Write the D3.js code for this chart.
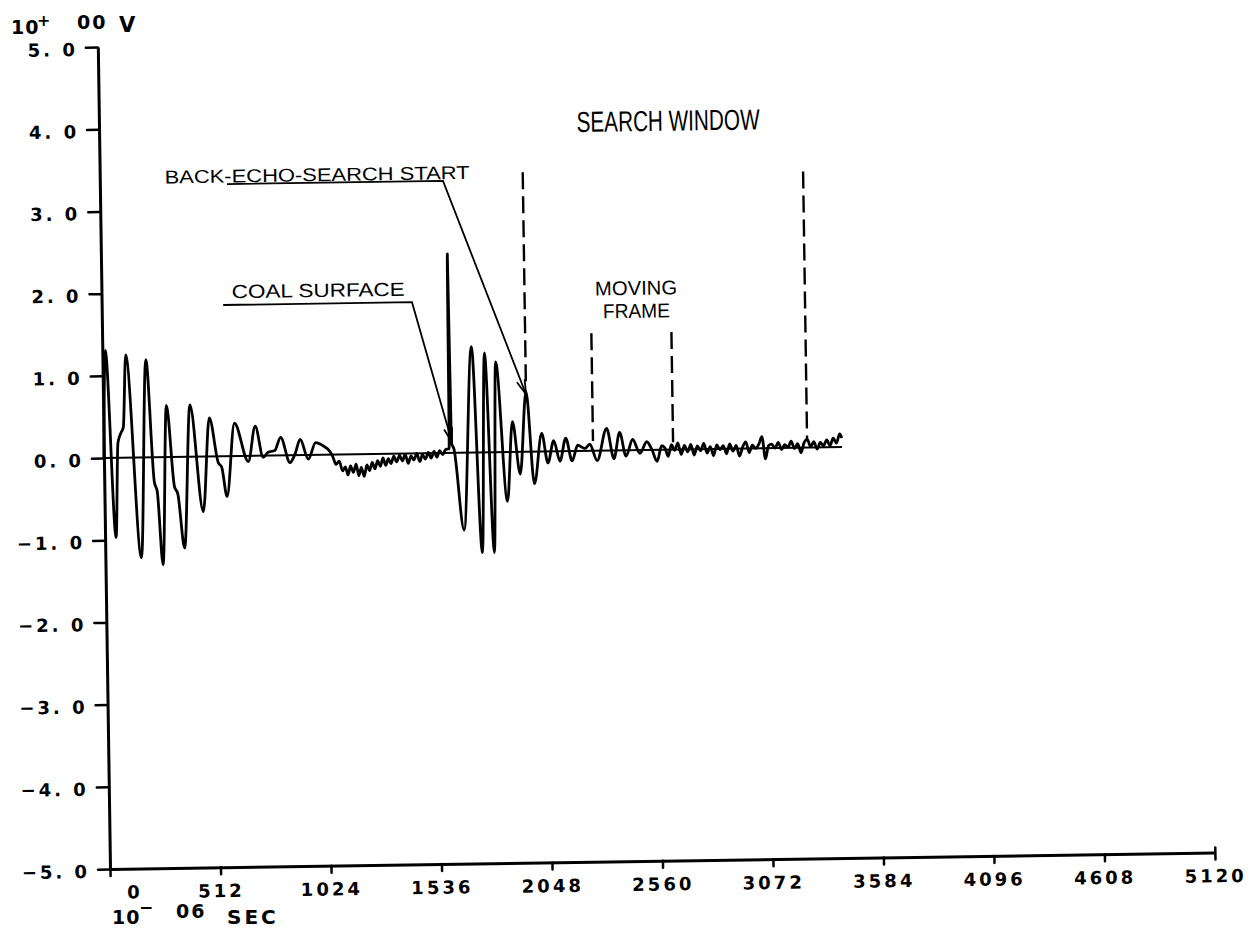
<!DOCTYPE html>
<html>
<head>
<meta charset="utf-8">
<script src="https://cdn.jsdelivr.net/npm/d3@7"></script>
<style>
body { margin: 0; background: #fff; }
.axis text { font-family: "DejaVu Sans", sans-serif; font-weight: bold; font-size: 18px; letter-spacing: 3px; fill: #000; }
.unit { font-family: "DejaVu Sans", sans-serif; font-weight: bold; fill: #000; }
.note { font-family: "Liberation Sans Narrow", "Liberation Sans", "DejaVu Sans", sans-serif; fill: #000; }
</style>
</head>
<body>
<svg id="chart" width="1255" height="931"></svg>
<script>
var width = 1255, height = 931;
var origin = {x: 110, y: 869};   // lower-left corner of the plot
var w = 1105, h = 822;
var tilt = -0.85;                 // the scanned plot sits slightly rotated

// tick values
var xTicks = [0, 512, 1024, 1536, 2048, 2560, 3072, 3584, 4096, 4608, 5120];
var yTicks = [-5, -4, -3, -2, -1, 0, 1, 2, 3, 4, 5];

// waveform, [time in 10^-6 s, volts]
var ringing = [
  [0, 0.0], [14, 1.31], [51, -0.97], [66, 0.18], [80, 0.30], [92, 0.37], [108, 1.25],
  [167, -1.22], [201, 1.19], [232, -0.30], [245, -0.42], [267, -1.31], [293, 0.63],
  [325, -0.36], [340, -0.45], [368, -1.11], [402, 0.63], [457, -0.67], [491, 0.47],
  [530, -0.08], [545, -0.13], [568, -0.49], [607, 0.40], [669, -0.07], [703, 0.36],
  [738, -0.02], [761, 0.04], [792, 0.06], [820, 0.22], [862, -0.09], [885, 0.01],
  [911, 0.19], [947, -0.05], [982, 0.15], [1016, 0.11], [1047, 0.04]
];
var quiet = [
  [1060, -0.02], [1075, -0.12], [1090, -0.08], [1105, -0.20], [1118, -0.15], [1130, -0.25],
  [1142, -0.14], [1155, -0.22], [1168, -0.12], [1180, -0.26], [1192, -0.16], [1205, -0.27],
  [1218, -0.13], [1230, -0.20], [1243, -0.10], [1255, -0.18], [1268, -0.08], [1280, -0.15],
  [1293, -0.05], [1305, -0.14], [1318, -0.06], [1330, -0.12], [1343, -0.03], [1356, -0.10],
  [1370, -0.02], [1383, -0.09], [1396, -0.01], [1410, -0.12], [1423, -0.03], [1436, -0.08],
  [1450, 0.00], [1463, -0.10], [1476, -0.02], [1490, -0.07], [1503, 0.01], [1516, -0.06],
  [1530, 0.02], [1543, -0.05], [1556, 0.03], [1570, -0.02], [1583, 0.04], [1596, 0.05]
];
var echo = [
  [1600, 0.05], [1605, 2.42], [1611, 0.12], [1622, 0.05], [1664, -0.94], [1710, 1.29],
  [1747, -1.22], [1770, 1.21], [1803, -1.22], [1821, 1.10], [1867, -0.60], [1895, 0.37],
  [1928, -0.27], [1960, 0.73], [1993, -0.39], [2030, 0.22], [2057, -0.14], [2085, 0.13],
  [2113, -0.12], [2141, 0.16], [2169, -0.12], [2196, 0.07], [2229, 0.03], [2252, 0.08],
  [2285, -0.12], [2331, 0.27], [2363, -0.10], [2391, 0.22], [2419, -0.07], [2451, 0.13],
  [2484, -0.04], [2516, 0.10], [2540, 0.00], [2563, -0.14], [2585, 0.05]
];
var tail = [
  [2600, 0.02], [2615, -0.08], [2630, 0.06], [2645, -0.01], [2660, 0.08], [2675, -0.06],
  [2690, 0.05], [2705, -0.03], [2720, 0.06], [2735, -0.07], [2750, 0.04], [2765, -0.02],
  [2780, 0.07], [2795, -0.05], [2810, 0.03], [2825, -0.08], [2840, 0.05], [2855, -0.01],
  [2870, 0.04], [2885, -0.06], [2900, 0.06], [2915, -0.03], [2930, 0.04], [2945, -0.09],
  [2960, 0.02], [2975, 0.08], [2990, -0.05], [3005, 0.04], [3020, 0.00], [3035, 0.05],
  [3050, 0.14], [3065, -0.13], [3080, 0.03], [3095, 0.05], [3110, 0.00], [3125, 0.07],
  [3140, -0.02], [3155, 0.04], [3170, 0.01], [3185, 0.08], [3200, -0.01], [3215, 0.05],
  [3230, -0.06], [3245, 0.06], [3260, 0.10], [3275, 0.01], [3290, 0.07], [3305, -0.02],
  [3320, 0.06], [3335, 0.02], [3350, 0.09], [3365, 0.02], [3380, 0.11], [3395, 0.05],
  [3410, 0.16], [3420, 0.11]
];

// dashed window marks: time, top and bottom volts
var markerT = [1960, 2267, 2638, 3259];
var markerTop = [3.40, 1.43, 1.43, 3.36];
var markerBottom = [0.78, 0.12, 0.09, 0.10];

// annotations
var noteText = ["SEARCH WINDOW", "BACK-ECHO-SEARCH START", "COAL SURFACE", "MOVING", "FRAME"];
var noteT = [2637, 1007, 1004, 2477, 2477];
var noteV = [3.88, 3.33, 1.92, 1.89, 1.61];
var noteSize = [29, 18.5, 19, 20, 20];
var noteLen = [183, 305, 173, 82, 67];

// leader lines: underline then arrow to the waveform
var leaders = [
  [[589, 3.31], [1590, 3.31], [1960, 0.70]],
  [[563, 1.84], [1438, 1.84], [1614, 0.13]]
];

var svg = d3.select("#chart");
svg.append("rect").attr("width", width).attr("height", height).attr("fill", "#fff");

var g = svg.append("g")
    .attr("transform", "translate(" + origin.x + "," + origin.y + ") rotate(" + tilt + ")");

var x = d3.scaleLinear().domain([0, 5120]).range([0, w]);
var y = d3.scaleLinear().domain([-5, 5]).range([0, -h]);

//AXES//
var xAxis = d3.axisBottom(x)
    .tickValues(xTicks)
    .tickSize(7)
    .tickSizeOuter(0)
    .tickFormat(d3.format("d"));

var gx = g.append("g").attr("class", "axis").call(xAxis);
gx.attr("font-family", null).attr("font-size", null);
gx.select(".domain").attr("stroke", "#000").attr("stroke-width", 3);
gx.selectAll(".tick line").attr("stroke", "#000").attr("stroke-width", 2.5).attr("stroke-linecap", "round");
gx.selectAll(".tick text")
    .attr("y", 17)
    .attr("dx", function(d) { return d == 0 ? 24 : 0; });
// hook at the far end of the time axis
gx.selectAll(".tick").filter(function(d) { return d == 5120; })
    .select("line").attr("y1", -5);

var yAxis = d3.axisLeft(y)
    .tickValues(yTicks)
    .tickSize(12)
    .tickSizeOuter(0)
    .tickFormat(function(d) {
        return (d < 0 ? "\u2212" : "") + Math.abs(d).toFixed(1).replace(".", ". ");
    });

var gy = g.append("g").attr("class", "axis").call(yAxis);
gy.attr("font-family", null).attr("font-size", null);
gy.select(".domain").attr("stroke", "#000").attr("stroke-width", 3);
gy.selectAll(".tick line").attr("stroke", "#000").attr("stroke-width", 2.5).attr("stroke-linecap", "round");
gy.selectAll(".tick text").attr("x", -20).attr("dy", "0.45em");

//WAVEFORM//
var trace = ringing.concat(quiet, echo, tail);

g.append("line")
    .attr("x1", x(0)).attr("x2", x(trace[trace.length - 1][0]))
    .attr("y1", y(0)).attr("y2", y(0))
    .attr("stroke", "#000").attr("stroke-width", 2);

var line = d3.line()
    .x(function(d) { return x(d[0]); })
    .y(function(d) { return y(d[1]); })
    .curve(d3.curveMonotoneX);

g.append("path")
    .datum(trace)
    .attr("d", line)
    .attr("fill", "none")
    .attr("stroke", "#000")
    .attr("stroke-width", 2.8)
    .attr("stroke-linejoin", "round");

//MARKERS//
g.selectAll(".marker")
    .data(markerT)
    .enter().append("line")
    .attr("class", "marker")
    .attr("x1", function(d) { return x(d); })
    .attr("x2", function(d) { return x(d); })
    .attr("y1", function(d, i) { return y(markerTop[i]); })
    .attr("y2", function(d, i) { return y(markerBottom[i]); })
    .attr("stroke", "#000")
    .attr("stroke-width", 2.4)
    .attr("stroke-dasharray", "17,7");

//ANNOTATIONS//
g.selectAll(".note")
    .data(noteText)
    .enter().append("text")
    .attr("class", "note")
    .attr("x", function(d, i) { return x(noteT[i]); })
    .attr("y", function(d, i) { return y(noteV[i]); })
    .attr("text-anchor", "middle")
    .attr("font-size", function(d, i) { return noteSize[i]; })
    .attr("textLength", function(d, i) { return noteLen[i]; })
    .attr("lengthAdjust", "spacingAndGlyphs")
    .text(function(d) { return d; });

var leaderLine = d3.line()
    .x(function(d) { return x(d[0]); })
    .y(function(d) { return y(d[1]); });

function arrowHead(p0, p1) {
    var a = Math.atan2(p1[1] - p0[1], p1[0] - p0[0]);
    var len = 15, spread = 0.28;
    var b1 = [p1[0] - len * Math.cos(a - spread), p1[1] - len * Math.sin(a - spread)];
    var b2 = [p1[0] - len * Math.cos(a + spread), p1[1] - len * Math.sin(a + spread)];
    return "M" + b1 + "L" + p1 + "L" + b2;
}

leaders.forEach(function(pts) {
    g.append("path")
        .attr("d", leaderLine(pts))
        .attr("fill", "none")
        .attr("stroke", "#000")
        .attr("stroke-width", 1.8);
    var n = pts.length;
    var p0 = [x(pts[n - 2][0]), y(pts[n - 2][1])];
    var p1 = [x(pts[n - 1][0]), y(pts[n - 1][1])];
    g.append("path")
        .attr("d", arrowHead(p0, p1))
        .attr("fill", "none")
        .attr("stroke", "#000")
        .attr("stroke-width", 1.8);
});

//UNIT LABELS//
var unitTop = svg.append("g").attr("class", "unit");
unitTop.append("text").attr("x", 11).attr("y", 34).style("font-size", "19px").attr("letter-spacing", 1).text("10");
unitTop.append("text").attr("x", 37).attr("y", 26).style("font-size", "16px").text("+");
unitTop.append("text").attr("x", 77).attr("y", 29).style("font-size", "19px").attr("letter-spacing", 2).text("00");
unitTop.append("text").attr("x", 119).attr("y", 32).style("font-size", "21px").text("V");

var unitBot = svg.append("g").attr("class", "unit");
unitBot.append("text").attr("x", 112).attr("y", 924).style("font-size", "19px").attr("letter-spacing", 1).text("10");
unitBot.append("text").attr("x", 139).attr("y", 913).style("font-size", "17px").text("\u2212");
unitBot.append("text").attr("x", 176).attr("y", 918).style("font-size", "19px").attr("letter-spacing", 2).text("06");
unitBot.append("text").attr("x", 227).attr("y", 924).style("font-size", "20px").attr("letter-spacing", 3).text("SEC");
</script>
</body>
</html>
